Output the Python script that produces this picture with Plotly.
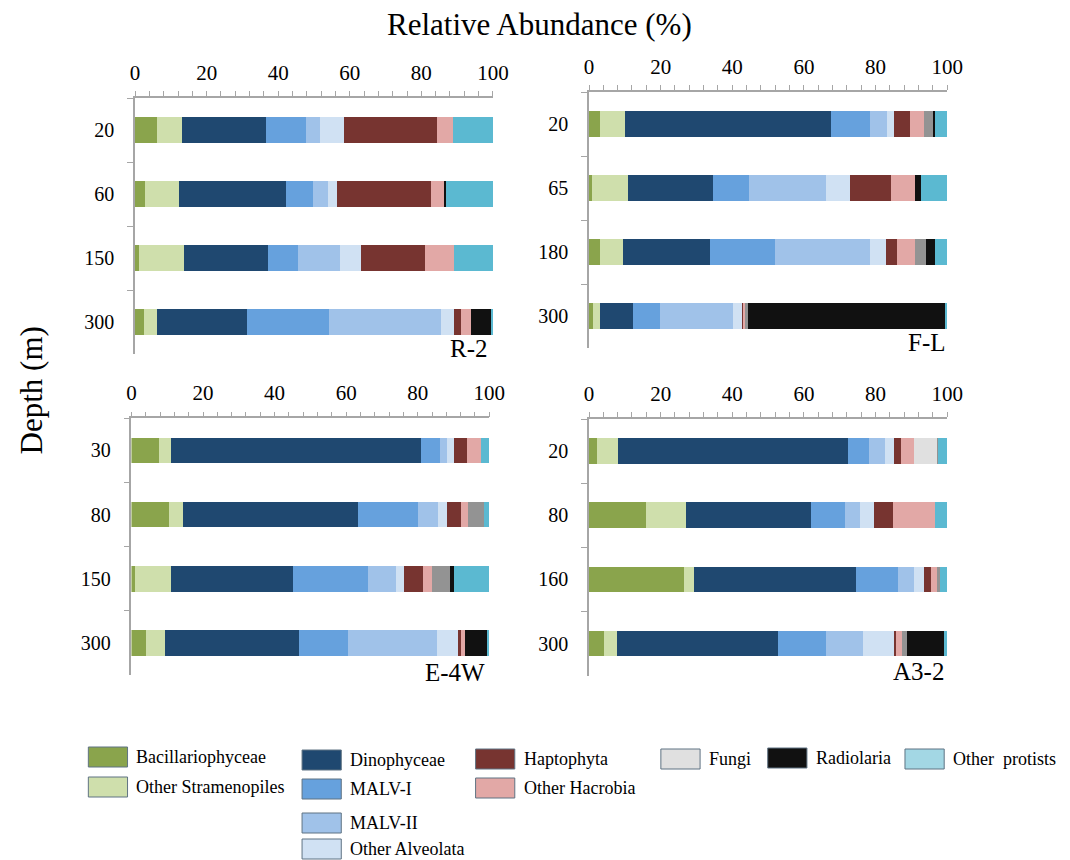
import plotly.graph_objects as go

# ---------------- data ----------------
taxa = ["Bacillariophyceae", "Other Stramenopiles", "Dinophyceae", "MALV-I", "MALV-II",
        "Other Alveolata", "Haptophyta", "Other Hacrobia", "Fungi", "Other (grey)",
        "Radiolaria", "Other  protists"]

bar_colors = ["#8aa44c", "#cfdfac", "#1f4870", "#66a1dd", "#a0c2e9", "#d0e1f3",
              "#773430", "#e2a8a6", "#e0e0e0", "#939393", "#111111", "#5bb9d1"]

r2_depths = ["20", "60", "150", "300"]
r2_values = {
    "Bacillariophyceae":   [6.1, 2.9, 1.1, 2.5],
    "Other Stramenopiles": [7.1, 9.3, 12.6, 3.6],
    "Dinophyceae":         [23.5, 30.0, 23.4, 25.1],
    "MALV-I":              [11.0, 7.5, 8.5, 23.1],
    "MALV-II":             [4.1, 4.1, 11.8, 31.3],
    "Other Alveolata":     [6.6, 2.7, 5.8, 3.4],
    "Haptophyta":          [26.1, 26.1, 17.7, 2.1],
    "Other Hacrobia":      [4.3, 3.9, 8.3, 2.7],
    "Fungi":               [0, 0, 0, 0],
    "Other (grey)":        [0, 0, 0, 0],
    "Radiolaria":          [0, 0.3, 0, 5.6],
    "Other  protists":     [11.2, 13.2, 10.8, 0.6],
}

fl_depths = ["20", "65", "180", "300"]
fl_values = {
    "Bacillariophyceae":   [3.0, 0.9, 3.2, 1.0],
    "Other Stramenopiles": [7.0, 9.9, 6.2, 2.0],
    "Dinophyceae":         [57.6, 23.9, 24.4, 9.4],
    "MALV-I":              [11.0, 10.0, 18.0, 7.3],
    "MALV-II":             [4.7, 21.4, 26.8, 20.6],
    "Other Alveolata":     [1.8, 6.7, 4.4, 2.6],
    "Haptophyta":          [4.6, 11.6, 3.0, 0.3],
    "Other Hacrobia":      [3.9, 6.6, 5.0, 0.3],
    "Fungi":               [0, 0, 0, 0],
    "Other (grey)":        [2.5, 0, 3.1, 0.9],
    "Radiolaria":          [0.4, 1.6, 2.6, 55.2],
    "Other  protists":     [3.5, 7.4, 3.3, 0.4],
}

e4w_depths = ["30", "80", "150", "300"]
e4w_values = {
    "Bacillariophyceae":   [7.7, 10.5, 0.9, 4.1],
    "Other Stramenopiles": [3.4, 3.8, 10.2, 5.3],
    "Dinophyceae":         [69.7, 49.1, 34.1, 37.3],
    "MALV-I":              [5.5, 16.6, 20.9, 13.8],
    "MALV-II":             [1.9, 5.8, 7.9, 25.0],
    "Other Alveolata":     [1.8, 2.4, 2.3, 5.8],
    "Haptophyta":          [3.7, 3.9, 5.3, 0.8],
    "Other Hacrobia":      [4.1, 1.9, 2.5, 1.0],
    "Fungi":               [0, 0, 0, 0],
    "Other (grey)":        [0, 4.4, 4.9, 0],
    "Radiolaria":          [0, 0, 1.1, 6.5],
    "Other  protists":     [2.2, 1.6, 9.9, 0.4],
}

a32_depths = ["20", "80", "160", "300"]
a32_values = {
    "Bacillariophyceae":   [2.3, 15.8, 26.4, 4.2],
    "Other Stramenopiles": [5.7, 11.4, 3.0, 3.6],
    "Dinophyceae":         [64.4, 34.8, 45.2, 45.1],
    "MALV-I":              [5.7, 9.6, 11.7, 13.2],
    "MALV-II":             [4.6, 4.1, 4.4, 10.4],
    "Other Alveolata":     [2.5, 4.0, 2.9, 8.7],
    "Haptophyta":          [1.9, 5.2, 2.0, 0.4],
    "Other Hacrobia":      [3.6, 11.8, 1.7, 1.8],
    "Fungi":               [6.5, 0, 0, 0],
    "Other (grey)":        [0.3, 0, 0.8, 1.3],
    "Radiolaria":          [0, 0, 0, 10.3],
    "Other  protists":     [2.5, 3.3, 1.9, 1.0],
}

panel_names = ["R-2", "F-L", "E-4W", "A3-2"]
x_ticks = [0, 20, 40, 60, 80, 100]

# legend (text and swatch colours as shown in the key)
legend_names = ["Bacillariophyceae", "Other Stramenopiles", "Dinophyceae", "MALV-I", "MALV-II",
                "Other Alveolata", "Haptophyta", "Other Hacrobia", "Fungi", "Radiolaria",
                "Other  protists"]
legend_colors = ["#8aa44c", "#cfdfac", "#1f4870", "#66a1dd", "#a0c2e9", "#d0e1f3",
                 "#773430", "#e2a8a6", "#e0e0e0", "#111111", "#a3d7e4"]

# ---------------- layout geometry (page pixels) ----------------
W, H = 1070, 860


def fx(px):
    return px / W


def fy(py):
    return 1 - py / H


panel_px = [  # x0, x1, ytop, ybottom
    (132.7, 497.7, 98.0, 354.0),
    (595.7, 961.0, 92.0, 348.0),
    (129.0, 494.0, 418.3, 675.0),
    (595.7, 961.0, 419.0, 675.7),
]
label_px = [(495, 348), (962, 342), (492, 672), (960, 671)]
# legend swatch positions: x0, ytop
legend_pos = [(85, 747), (85, 777), (303, 750), (303, 779), (303, 813), (303, 839),
              (480, 749), (480, 778), (669, 749), (778, 748), (918, 749)]

FONT = "Liberation Serif"
values_list = [r2_values, fl_values, e4w_values, a32_values]
depths_list = [r2_depths, fl_depths, e4w_depths, a32_depths]

fig = go.Figure()
for p in range(4):
    xa = "x" if p == 0 else f"x{p+1}"
    ya = "y" if p == 0 else f"y{p+1}"
    for t, c in zip(taxa, bar_colors):
        fig.add_trace(go.Bar(
            x=values_list[p][t], y=depths_list[p], orientation="h",
            name=t, marker=dict(color=c, line=dict(width=0)),
            xaxis=xa, yaxis=ya, showlegend=False,
            hovertemplate=t + ": %{x}%<extra>" + panel_names[p] + "</extra>"))

layout = dict(
    width=W, height=H, autosize=False,
    margin=dict(l=0, r=0, t=0, b=0),
    paper_bgcolor="white", plot_bgcolor="white",
    barmode="stack", bargap=0.6,
    font=dict(family=FONT, color="black", size=20),
    showlegend=False,
)

for p in range(4):
    x0, x1, yt, yb = panel_px[p]
    xk = "xaxis" if p == 0 else f"xaxis{p+1}"
    yk = "yaxis" if p == 0 else f"yaxis{p+1}"
    ya = "y" if p == 0 else f"y{p+1}"
    xa = "x" if p == 0 else f"x{p+1}"
    layout[xk] = dict(
        domain=[fx(x0), fx(x1)], anchor=ya, side="top", range=[0, 100],
        tickvals=x_ticks, ticks="outside", ticklen=5, tickwidth=1, tickcolor="#a6a6a6",
        minor=dict(dtick=4, tick0=0, ticks="outside", ticklen=5, tickwidth=1, tickcolor="#a6a6a6"),
        showline=True, linecolor="#a6a6a6", linewidth=1.5, showgrid=False, zeroline=False,
        tickfont=dict(family=FONT, size=21, color="black"), ticklabelstandoff=3,
        fixedrange=True)
    layout[yk] = dict(
        domain=[fy(yb), fy(yt)], anchor=xa, type="category",
        categoryorder="array", categoryarray=depths_list[p], autorange="reversed",
        tickson="boundaries", ticks="outside", ticklen=6, tickwidth=1, tickcolor="#a6a6a6",
        showline=True, linecolor="#a6a6a6", linewidth=1.5, showgrid=False, zeroline=False,
        tickfont=dict(family=FONT, size=20, color="black"), ticklabelstandoff=15,
        fixedrange=True)

annotations = [
    dict(text="Relative Abundance (%)", x=fx(545), y=fy(24), xref="paper", yref="paper",
         xanchor="center", yanchor="middle", showarrow=False,
         font=dict(family=FONT, size=31, color="black")),
    dict(text="Depth (m)", x=fx(28), y=fy(390), xref="paper", yref="paper",
         xanchor="center", yanchor="middle", showarrow=False, textangle=-90,
         font=dict(family=FONT, size=31, color="black")),
]
for p in range(4):
    lx, ly = label_px[p]
    annotations.append(dict(text=panel_names[p], x=fx(lx), y=fy(ly), xref="paper", yref="paper",
                            xanchor="right", yanchor="middle", showarrow=False,
                            font=dict(family=FONT, size=25, color="black")))

shapes = []
SW, SH = 40, 20
for name, col, (lx, ly) in zip(legend_names, legend_colors, legend_pos):
    shapes.append(dict(type="rect", xref="paper", yref="paper",
                       x0=fx(lx), x1=fx(lx + SW), y0=fy(ly + SH), y1=fy(ly),
                       fillcolor=col, line=dict(color="#5f7383", width=1)))
    annotations.append(dict(text=name, x=fx(lx + SW + 7), y=fy(ly + SH / 2),
                            xref="paper", yref="paper", xanchor="left", yanchor="middle",
                            showarrow=False, font=dict(family=FONT, size=18, color="black")))

layout["annotations"] = annotations
layout["shapes"] = shapes
fig.update_layout(**layout)
# remove the browser's default 8px page margin so the 1070x860 figure fills the window
fig.write_html("out.html", config={"displayModeBar": False},
               post_script="document.body.style.margin='0';document.body.style.overflow='hidden';")
